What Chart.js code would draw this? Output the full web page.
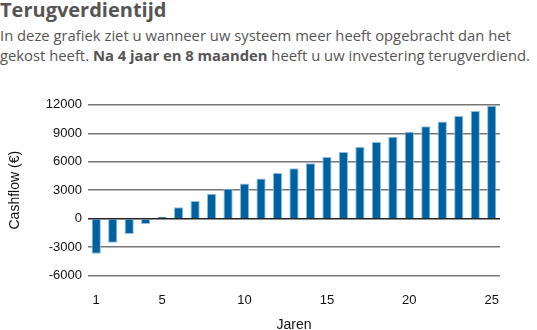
<!DOCTYPE html>
<html>
<head>
<meta charset="utf-8">
<script src="https://cdn.jsdelivr.net/npm/chart.js@4"></script>
<style>
  body { margin: 0; background: #fff; width: 537px; height: 330px; overflow: hidden; position: relative; }
  #head { position: absolute; left: 0; top: -3px; width: 537px; font-family: "Open Sans", sans-serif; color: #555; }
  #head h2 { margin: 0; font-size: 20px; font-weight: bold; line-height: 26px; }
  #head p { margin: 3px 0 0 0; font-size: 14.8px; line-height: 19.5px; }
  #wrap { position: absolute; left: 0; top: 91px; width: 508px; height: 243px; }
</style>
</head>
<body>
<div id="head">
  <h2>Terugverdientijd</h2>
  <p>In deze grafiek ziet u wanneer uw systeem meer heeft opgebracht dan het gekost heeft. <b>Na 4 jaar en 8 maanden</b> heeft u uw investering terugverdiend.</p>
</div>
<div id="wrap"><canvas id="myChart"></canvas></div>
<script>
// chart data
const years = [1, 2, 3, 4, 5, 6, 7, 8, 9, 10, 11, 12, 13, 14, 15, 16, 17, 18, 19, 20, 21, 22, 23, 24, 25];
const cashflow = [-3700, -2550, -1610, -560, 210, 1190, 1850, 2620, 3150, 3710, 4230, 4800, 5320, 5850, 6510,
                  7030, 7560, 8080, 8640, 9170, 9730, 10250, 10810, 11340, 11900];
const shownYears = [1, 5, 10, 15, 20, 25];
const yTicks = [-6000, -3000, 0, 3000, 6000, 9000, 12000];

const ctx = document.getElementById('myChart');

const myChart = new Chart(ctx, {
    type: 'bar',
    data: {
        labels: years,
        datasets: [{
            data: cashflow,
            backgroundColor: '#0061a0',
            borderColor: '#8fbfdc',
            borderWidth: 1,
            borderSkipped: 'start',
            barPercentage: 0.56,
            categoryPercentage: 1
        }]
    },
    options: {
        responsive: true,
        maintainAspectRatio: false,
        animation: false,
        layout: { padding: { top: 10, right: 2, bottom: 0, left: 7 } },
        plugins: { legend: { display: false }, tooltip: { enabled: false } },
        scales: {
            x: {
                grid: { display: false },
                border: { display: false },
                ticks: {
                    color: '#111',
                    font: { family: 'Liberation Sans', size: 13 },
                    padding: 9,
                    autoSkip: false,
                    maxRotation: 0,
                    callback: function (val, i) {
                        return shownYears.includes(years[i]) ? years[i] : '';
                    }
                },
                title: {
                    display: true,
                    text: 'Jaren',
                    color: '#111',
                    font: { family: 'Liberation Sans', size: 14 },
                    padding: { top: 0, bottom: 0 }
                }
            },
            y: {
                min: -6000,
                max: 12000,
                afterBuildTicks: function (axis) {
                    axis.ticks = yTicks.map(v => ({ value: v }));
                },
                afterFit: function (axis) { axis.width = 81; },
                grid: {
                    color: function (c) { return c.tick.value === 0 ? '#222' : '#777'; },
                    lineWidth: 1.5,
                    drawTicks: false
                },
                border: { display: false },
                ticks: {
                    color: '#111',
                    font: { family: 'Liberation Sans', size: 13 },
                    padding: 6,
                    callback: function (val) { return String(val); }
                },
                title: {
                    display: true,
                    text: 'Cashflow (€)',
                    color: '#111',
                    font: { family: 'Liberation Sans', size: 14 },
                    padding: { top: 0, bottom: 0 }
                }
            }
        }
    }
});
</script>
</body>
</html>
